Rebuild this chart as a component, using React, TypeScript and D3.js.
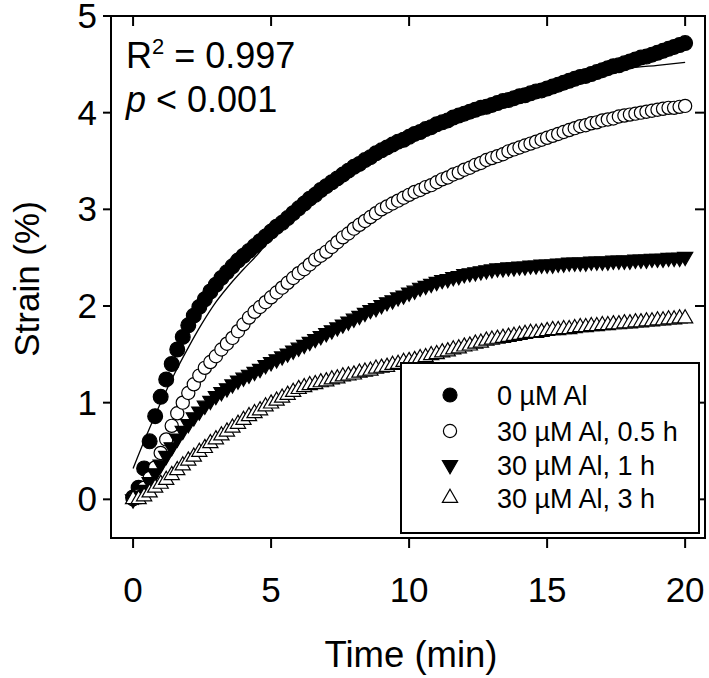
import React from "react";
import * as d3 from "d3";

// sample times (min), one reading every 0.2 min
const TIME: number[] = d3.range(101).map((i) => +(i * 0.2).toFixed(1));

const S_0uM: number[] = [
  0.02, 0.12, 0.32, 0.60, 0.86, 1.06, 1.24, 1.40, 1.55, 1.68,
  1.80, 1.90, 1.99, 2.07, 2.15, 2.22, 2.29, 2.35, 2.41, 2.47,
  2.52, 2.57, 2.62, 2.67, 2.72, 2.77, 2.82, 2.86, 2.91, 2.96,
  3.01, 3.06, 3.11, 3.15, 3.20, 3.24, 3.28, 3.32, 3.36, 3.40,
  3.44, 3.47, 3.51, 3.54, 3.58, 3.61, 3.64, 3.67, 3.70, 3.72,
  3.75, 3.78, 3.80, 3.83, 3.85, 3.88, 3.90, 3.92, 3.95, 3.97,
  3.99, 4.01, 4.03, 4.05, 4.06, 4.08, 4.10, 4.12, 4.13, 4.15,
  4.17, 4.18, 4.20, 4.22, 4.23, 4.25, 4.27, 4.29, 4.31, 4.33,
  4.35, 4.37, 4.38, 4.40, 4.42, 4.44, 4.46, 4.48, 4.49, 4.51,
  4.53, 4.55, 4.57, 4.58, 4.60, 4.62, 4.64, 4.66, 4.68, 4.70,
  4.72,
];

const S_30uM_05h: number[] = [
  0.00, 0.04, 0.12, 0.22, 0.33, 0.48, 0.62, 0.76, 0.89, 1.00,
  1.10, 1.19, 1.28, 1.36, 1.42, 1.48, 1.55, 1.61, 1.67, 1.74,
  1.81, 1.88, 1.94, 1.99, 2.04, 2.09, 2.14, 2.19, 2.24, 2.29,
  2.34, 2.38, 2.43, 2.48, 2.52, 2.56, 2.61, 2.66, 2.71, 2.75,
  2.80, 2.84, 2.88, 2.92, 2.96, 3.00, 3.03, 3.06, 3.09, 3.12,
  3.15, 3.18, 3.20, 3.23, 3.25, 3.28, 3.31, 3.33, 3.36, 3.38,
  3.41, 3.43, 3.46, 3.48, 3.51, 3.53, 3.55, 3.57, 3.60, 3.62,
  3.64, 3.66, 3.68, 3.70, 3.72, 3.74, 3.76, 3.78, 3.80, 3.82,
  3.84, 3.86, 3.87, 3.89, 3.90, 3.92, 3.93, 3.94, 3.96, 3.97,
  3.98, 3.99, 4.00, 4.01, 4.02, 4.03, 4.04, 4.05, 4.05, 4.06,
  4.07,
];

const S_30uM_1h: number[] = [
  0.00, 0.04, 0.10, 0.18, 0.27, 0.36, 0.45, 0.54, 0.63, 0.71,
  0.78, 0.85, 0.91, 0.97, 1.02, 1.07, 1.11, 1.15, 1.19, 1.23,
  1.26, 1.29, 1.32, 1.35, 1.39, 1.42, 1.45, 1.48, 1.51, 1.54,
  1.57, 1.60, 1.63, 1.66, 1.69, 1.72, 1.75, 1.78, 1.81, 1.84,
  1.87, 1.90, 1.93, 1.96, 1.98, 2.01, 2.04, 2.06, 2.09, 2.11,
  2.14, 2.16, 2.19, 2.21, 2.23, 2.25, 2.27, 2.28, 2.30, 2.31,
  2.33, 2.34, 2.35, 2.36, 2.37, 2.38, 2.39, 2.39, 2.40, 2.40,
  2.41, 2.41, 2.42, 2.42, 2.43, 2.43, 2.43, 2.44, 2.44, 2.45,
  2.45, 2.45, 2.45, 2.46, 2.46, 2.46, 2.46, 2.47, 2.47, 2.47,
  2.47, 2.48, 2.48, 2.48, 2.49, 2.49, 2.49, 2.50, 2.50, 2.50,
  2.51,
];

const S_30uM_3h: number[] = [
  0.00, 0.00, 0.03, 0.07, 0.12, 0.16, 0.20, 0.25, 0.30, 0.35,
  0.40, 0.44, 0.49, 0.53, 0.58, 0.62, 0.66, 0.70, 0.74, 0.78,
  0.82, 0.86, 0.89, 0.92, 0.96, 0.99, 1.02, 1.05, 1.08, 1.11,
  1.14, 1.16, 1.18, 1.19, 1.21, 1.22, 1.24, 1.25, 1.27, 1.28,
  1.29, 1.31, 1.32, 1.33, 1.35, 1.36, 1.37, 1.39, 1.40, 1.42,
  1.43, 1.44, 1.46, 1.47, 1.49, 1.50, 1.52, 1.53, 1.55, 1.56,
  1.58, 1.59, 1.61, 1.62, 1.64, 1.65, 1.66, 1.67, 1.68, 1.69,
  1.70, 1.71, 1.72, 1.72, 1.73, 1.74, 1.75, 1.75, 1.76, 1.76,
  1.77, 1.78, 1.78, 1.79, 1.79, 1.80, 1.80, 1.81, 1.81, 1.82,
  1.82, 1.83, 1.83, 1.84, 1.84, 1.85, 1.85, 1.86, 1.86, 1.87,
  1.87,
];

// fitted curve for the 0 µM series
const FIT_TIME: number[] = [0, 0.5, 1, 1.5, 2, 2.5, 3, 3.5, 4, 4.5, 5, 6, 7, 8, 9, 10, 11, 12, 13, 14, 15, 16, 17, 18, 19, 20];
const FIT_0uM: number[] = [0.32, 0.67, 1.00, 1.30, 1.57, 1.82, 2.04, 2.22, 2.38, 2.53, 2.70, 2.99, 3.24, 3.44, 3.62, 3.77, 3.90, 4.02, 4.12, 4.21, 4.29, 4.35, 4.41, 4.46, 4.49, 4.52];

const SERIES_LABELS: string[] = ["0 µM Al", "30 µM Al, 0.5 h", "30 µM Al, 1 h", "30 µM Al, 3 h"];
const SERIES_VALUES: number[][] = [S_0uM, S_30uM_05h, S_30uM_1h, S_30uM_3h];
const SERIES_MARKERS: string[] = ["filledCircle", "openCircle", "filledDown", "openUp"];

const X_TICKS: number[] = [0, 5, 10, 15, 20];
const Y_TICKS: number[] = [0, 1, 2, 3, 4, 5];

const FONT = "'Liberation Sans', Arial, Helvetica, sans-serif";

const W = 709;
const H = 678;
const L = 111;
const R = 705;
const T = 16;
const B = 538;

const x = d3.scaleLinear().domain([-0.8, 20.72]).range([L, R]);
const y = d3.scaleLinear().domain([-0.4, 5]).range([B, T]);

const triPath = d3.symbol(d3.symbolTriangle, 100)() as string;

function Marker({ kind, cx, cy, legend }: { kind: string; cx: number; cy: number; legend?: boolean }) {
  const sw = 1.2;
  if (kind === "filledCircle")
    return <circle cx={cx} cy={cy} r={legend ? 7 : 7.4} fill="#000" stroke="#000" strokeWidth={sw} />;
  if (kind === "openCircle")
    return <circle cx={cx} cy={cy} r={6.6} fill="#fff" stroke="#000" strokeWidth={sw} />;
  if (kind === "filledDown")
    return <path d={triPath} transform={`translate(${cx},${cy}) rotate(180)`} fill="#000" stroke="#000" strokeWidth={sw} />;
  return <path d={triPath} transform={`translate(${cx},${cy})`} fill="#fff" stroke="#000" strokeWidth={sw} />;
}

export default function App() {
  const fitLine = d3
    .line<number>()
    .x((_, i) => x(FIT_TIME[i]))
    .y((d) => y(d))
    .curve(d3.curveMonotoneX)(FIT_0uM) as string;

  const legX = 401;
  const legY = 363;
  const legW = 298;
  const legH = 170;
  const rowY = [395, 431, 465, 498];

  return (
    <svg
      width={W}
      height={H}
      viewBox={`0 0 ${W} ${H}`}
      style={{ position: "absolute", left: 0, top: 0, background: "#fff" }}
      fontFamily={FONT}
    >
      <rect x={0} y={0} width={W} height={H} fill="#fff" />

      {/* data */}
      {SERIES_VALUES.map((vals, si) => (
        <g key={si}>
          {vals.map((v, i) => (
            <Marker key={i} kind={SERIES_MARKERS[si]} cx={x(TIME[i])} cy={y(v)} />
          ))}
        </g>
      ))}
      <path d={fitLine} fill="none" stroke="#000" strokeWidth={1.3} />

      {/* frame */}
      <rect x={L} y={T} width={R - L} height={B - T} fill="none" stroke="#000" strokeWidth={2} />

      {/* x ticks: bottom outward, top inward */}
      {X_TICKS.map((t) => (
        <g key={"xt" + t}>
          <line x1={x(t)} x2={x(t)} y1={B} y2={B + 10} stroke="#000" strokeWidth={2} />
          <line x1={x(t)} x2={x(t)} y1={T} y2={T + 10} stroke="#000" strokeWidth={2} />
          <text x={x(t)} y={602} fontSize={35} textAnchor="middle" fill="#000">
            {t}
          </text>
        </g>
      ))}

      {/* y ticks: left outward, right inward */}
      {Y_TICKS.map((v) => (
        <g key={"yt" + v}>
          <line x1={L - 8} x2={L} y1={y(v)} y2={y(v)} stroke="#000" strokeWidth={2} />
          <line x1={R - 10} x2={R} y1={y(v)} y2={y(v)} stroke="#000" strokeWidth={2} />
          <text x={97} y={y(v) + 12} fontSize={35} textAnchor="end" fill="#000">
            {v}
          </text>
        </g>
      ))}

      {/* axis titles */}
      <text x={411} y={667} fontSize={36.5} textAnchor="middle" fill="#000">
        Time (min)
      </text>
      <text
        transform={`translate(39,${(T + B) / 2 + 2}) rotate(-90)`}
        fontSize={35}
        textAnchor="middle"
        fill="#000"
      >
        Strain (%)
      </text>

      {/* annotation */}
      <text x={126} y={68} fontSize={36} fill="#000">
        R<tspan dy={-14} fontSize={22}>2</tspan>
        <tspan dy={14}> = 0.997</tspan>
      </text>
      <text x={126} y={112} fontSize={36} fill="#000">
        <tspan fontStyle="italic">p</tspan> &lt; 0.001
      </text>

      {/* legend */}
      <rect x={legX} y={legY} width={legW} height={legH} fill="#fff" stroke="#000" strokeWidth={2} />
      {SERIES_LABELS.map((lab, i) => (
        <g key={"lg" + i}>
          <Marker kind={SERIES_MARKERS[i]} cx={450} cy={rowY[i]} legend />
          <text x={497} y={rowY[i] + 9.5} fontSize={27} fill="#000">
            {lab}
          </text>
        </g>
      ))}
    </svg>
  );
}
